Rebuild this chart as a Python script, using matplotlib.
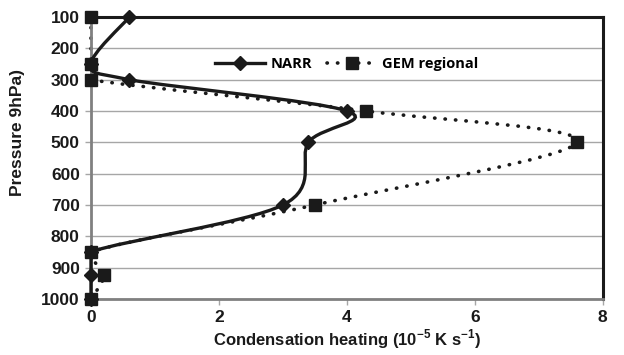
"""Condensation heating profiles: NARR vs GEM regional."""

import matplotlib

matplotlib.use("Agg")

import matplotlib.pyplot as plt
import numpy as np
from matplotlib.patches import PathPatch
from matplotlib.path import Path


PRESSURE = [100, 250, 300, 400, 500, 700, 850, 925, 1000]
NARR = [0.6, 0.0, 0.6, 4.0, 3.4, 3.0, 0.0, 0.0, 0.0]
GEM = [0.0, 0.0, 0.0, 4.3, 7.6, 3.5, 0.0, 0.2, 0.0]

X_TICKS = [0, 2, 4, 6, 8]
Y_TICKS = [100, 200, 300, 400, 500, 600, 700, 800, 900, 1000]

INK = "#1a1a1a"
DOTS = (0, (0.1, 2.8))


def smooth_path(x, y):
    # Excel-like smoothed line: Catmull-Rom converted to cubic Bezier
    pts = np.column_stack([x, y]).astype(float)
    ext = np.vstack([pts[0], pts, pts[-1]])
    verts = [pts[0]]
    codes = [Path.MOVETO]
    for i in range(len(pts) - 1):
        p0, p1, p2, p3 = ext[i], ext[i + 1], ext[i + 2], ext[i + 3]
        c1 = p1 + (p2 - p0) / 6.0
        c2 = p2 - (p3 - p1) / 6.0
        c1[0] = max(c1[0], 0.0)
        c2[0] = max(c2[0], 0.0)
        verts += [c1, c2, p2]
        codes += [Path.CURVE4] * 3
    return Path(verts, codes)


plt.rcParams["font.family"] = ["Liberation Sans", "DejaVu Sans"]
plt.rcParams["mathtext.fontset"] = "custom"
plt.rcParams["mathtext.rm"] = "Liberation Sans"
plt.rcParams["mathtext.bf"] = "Liberation Sans:bold"

fig = plt.figure(figsize=(6.24, 3.55), dpi=100)
ax = fig.add_axes([0.1458, 0.158, 0.8202, 0.794])

ax.set_xlim(0, 8)
ax.set_ylim(1000, 100)

for val in Y_TICKS:
    ax.axhline(val, color="#a6a6a6", linewidth=1.0, zorder=0)

ax.add_patch(
    PathPatch(smooth_path(NARR, PRESSURE), facecolor="none", edgecolor=INK,
              linewidth=2.4, zorder=3, clip_on=False)
)
ax.add_patch(
    PathPatch(smooth_path(GEM, PRESSURE), facecolor="none", edgecolor=INK,
              linewidth=2.6, linestyle=DOTS, capstyle="round",
              zorder=2, clip_on=False)
)
ax.plot(NARR, PRESSURE, linestyle="none", marker="D", markersize=7.5,
        color=INK, zorder=5, clip_on=False)
ax.plot(GEM, PRESSURE, linestyle="none", marker="s", markersize=8.5,
        color=INK, zorder=4, clip_on=False)

# legend proxies
ax.plot([], [], color=INK, linewidth=2.4, marker="D", markersize=7.5,
        label="NARR")
ax.plot([], [], color=INK, linewidth=2.6, linestyle=DOTS,
        dash_capstyle="round", marker="s", markersize=8.5, label="GEM regional")
ax.legend(loc="upper center", bbox_to_anchor=(0.5, 0.905), ncol=2,
          frameon=False, handlelength=3.4, columnspacing=1.0,
          handletextpad=0.4,
          prop={"family": "Open Sans", "weight": "bold", "size": 10.5})

ax.set_xticks(X_TICKS)
ax.set_yticks(Y_TICKS)
ax.tick_params(axis="both", labelsize=12.5, colors=INK, length=4,
               width=1, pad=4)
ax.tick_params(axis="both", color="#a6a6a6")
for lbl in ax.get_xticklabels() + ax.get_yticklabels():
    lbl.set_fontweight("bold")

ax.spines["left"].set_color("#808080")
ax.spines["left"].set_linewidth(2.0)
ax.spines["bottom"].set_color("#808080")
ax.spines["bottom"].set_linewidth(2.0)
ax.spines["top"].set_color(INK)
ax.spines["top"].set_linewidth(2.2)
ax.spines["right"].set_color(INK)
ax.spines["right"].set_linewidth(2.2)

ax.set_xlabel("Condensation heating (10$^{\\mathbf{-5}}$ K s$^{\\mathbf{-1}}$)",
              fontsize=12, fontweight="bold", color=INK, labelpad=2)
ax.set_ylabel("Pressure 9hPa)", fontsize=12.5, fontweight="bold", color=INK)
ax.yaxis.set_label_coords(-0.128, 0.59)

fig.savefig("out.png", dpi=100)
